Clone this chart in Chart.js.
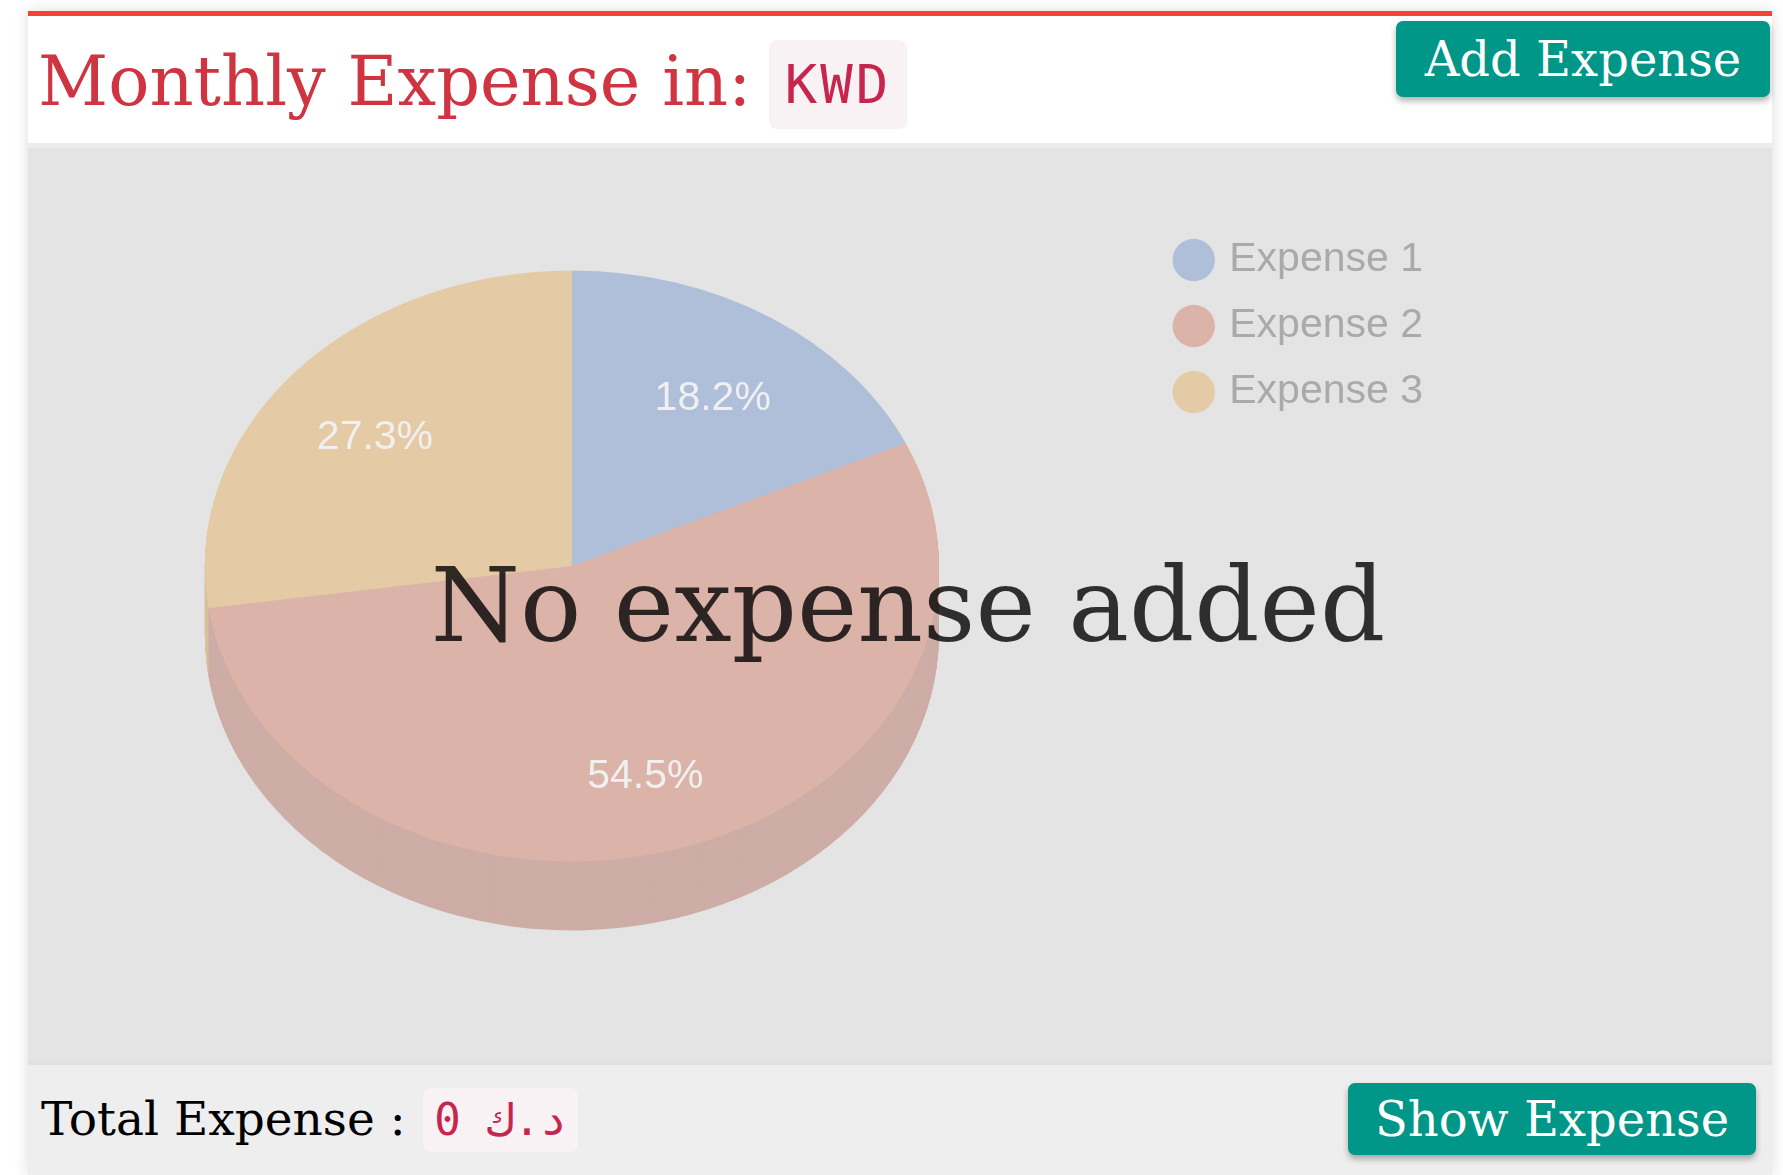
<!DOCTYPE html>
<html lang="en">

<head>
   <meta charset="UTF-8">
   <title>Monthly Expense</title>
   <script src="https://cdn.jsdelivr.net/npm/chart.js@4.4.1/dist/chart.umd.min.js"></script>
   <style>
      body {
         margin: 0;
         background: #fff;
         font-family: 'DejaVu Serif', serif;
      }

      .card {
         position: absolute;
         left: 28px;
         top: 11px;
         width: 1744px;
         background: #fff;
         border-top: 5px solid #f44336;
         box-shadow: 0 0 14px rgba(0, 0, 0, 0.14);
      }

      .card-header {
         position: relative;
         height: 127px;
         border-bottom: 5px solid #ececec;
      }

      .card-header h1 {
         position: absolute;
         left: 10px;
         top: 25px;
         margin: 0;
         font-size: 68.5px;
         font-weight: normal;
         color: #cf3440;
         white-space: nowrap;
      }

      code {
         position: absolute;
         background: #f9f2f4;
         color: #c7254e;
         border-radius: 8px;
         font-family: 'DejaVu Sans Mono', monospace;
         text-align: center;
         white-space: nowrap;
      }

      #currency {
         left: 741px;
         top: 24px;
         width: 138px;
         height: 89px;
         line-height: 89px;
         font-size: 54px;
         letter-spacing: 3px;
      }

      .btn {
         position: absolute;
         background: #009688;
         color: #fff;
         border-radius: 7px;
         box-shadow: 0 4px 6px rgba(0, 0, 0, 0.3);
         font-size: 48px;
         text-align: center;
         white-space: nowrap;
      }

      #addExpense {
         right: 2px;
         top: 5px;
         width: 374px;
         height: 76px;
         line-height: 76px;
      }

      .card-body {
         position: relative;
         height: 912px;
         background: #e4e4e4;
         overflow: hidden;
      }

      .chart-wrap {
         position: absolute;
         left: -38px;
         top: 0;
         width: 1782px;
         height: 912px;
      }

      .empty-msg {
         position: absolute;
         left: 16px;
         right: 0;
         top: 398px;
         text-align: center;
         font-size: 102px;
         color: rgba(0, 0, 0, 0.8);
         white-space: nowrap;
      }

      .card-footer {
         position: relative;
         height: 110px;
         border-top: 5px solid #e1e1e1;
         background: #eee;
      }

      .total {
         position: absolute;
         left: 13px;
         top: 26px;
         font-size: 47px;
         color: #000;
         white-space: nowrap;
      }

      #totalValue {
         left: 395px;
         top: 23px;
         width: 155px;
         height: 64px;
         line-height: 64px;
         font-size: 44px;
      }

      #showExpense {
         right: 16px;
         top: 18px;
         width: 408px;
         height: 72px;
         line-height: 72px;
      }
   </style>
</head>

<body>
   <div class="card">
      <div class="card-header">
         <h1>Monthly Expense in:</h1>
         <code id="currency">KWD</code>
         <div class="btn" id="addExpense">Add Expense</div>
      </div>
      <div class="card-body">
         <div class="chart-wrap">
            <canvas id="expenseChart"></canvas>
         </div>
         <div class="empty-msg">No expense added</div>
      </div>
      <div class="card-footer">
         <div class="total">Total Expense :</div>
         <code id="totalValue">0 د.ك</code>
         <div class="btn" id="showExpense">Show Expense</div>
      </div>
   </div>

   <script>
      // placeholder data shown while no expense exists
      var categories = ['Expense 1', 'Expense 2', 'Expense 3'];
      var amounts = [2, 6, 3];

      var sliceColors = ['#b0bfd9', '#dcb3a9', '#e4cba6'];
      var sideColors = ['#a5b2ca', '#ceada6', '#d8c09e'];

      // fake 3d: squash the pie into an ellipse and stack a darker copy under it
      var pie3d = {
         id: 'pie3d',
         beforeDatasetsDraw: function (chart, args, opts) {
            var ctx = chart.ctx;
            var arcs = chart.getDatasetMeta(0).data;
            if (!arcs.length) return;
            var cx = arcs[0].x, cy = arcs[0].y;
            ctx.save();
            ctx.translate(cx, cy);
            ctx.scale(1, opts.tilt);
            ctx.translate(-cx, -cy);
            var depth = opts.depth / opts.tilt;
            for (var d = depth; d > 0; d--) {
               arcs.forEach(function (arc, i) {
                  ctx.beginPath();
                  ctx.moveTo(arc.x, arc.y + d);
                  ctx.arc(arc.x, arc.y + d, arc.outerRadius, arc.startAngle, arc.endAngle);
                  ctx.closePath();
                  ctx.fillStyle = opts.sideColors[i];
                  ctx.fill();
               });
            }
         },
         afterDatasetsDraw: function (chart, args, opts) {
            var ctx = chart.ctx;
            var arcs = chart.getDatasetMeta(0).data;
            if (!arcs.length) return;
            ctx.restore();

            var total = amounts.reduce(function (a, b) { return a + b; }, 0);
            ctx.save();
            ctx.font = opts.labelFont;
            ctx.fillStyle = opts.labelColor;
            ctx.textAlign = 'center';
            ctx.textBaseline = 'middle';
            arcs.forEach(function (arc, i) {
               var mid = (arc.startAngle + arc.endAngle) / 2;
               var r = arc.outerRadius * opts.labelRadius;
               var x = arc.x + Math.cos(mid) * r;
               var y = arc.y + Math.sin(mid) * r * opts.tilt + opts.labelShift;
               ctx.fillText((amounts[i] / total * 100).toFixed(1) + '%', x, y);
            });
            ctx.restore();
         }
      };

      var ctxPie = document.getElementById('expenseChart');
      var expenseChart = new Chart(ctxPie, {
         type: 'pie',
         data: {
            labels: categories,
            datasets: [{
               data: amounts,
               backgroundColor: sliceColors,
               borderWidth: 0,
               radius: 367,
               clip: false
            }]
         },
         options: {
            responsive: true,
            maintainAspectRatio: false,
            animation: false,
            events: [],
            layout: {
               padding: { top: 66.5, bottom: 142.5, left: 0, right: 339 }
            },
            plugins: {
               legend: {
                  position: 'right',
                  align: 'start',
                  labels: {
                     usePointStyle: true,
                     pointStyle: 'circle',
                     boxWidth: 30,
                     boxHeight: 30,
                     padding: 25,
                     textAlign: 'left',
                     color: '#aaaaaa',
                     font: { family: "'Liberation Sans', Arial, sans-serif", size: 41 }
                  }
               },
               tooltip: { enabled: false },
               pie3d: {
                  tilt: 0.805,
                  depth: 69,
                  sideColors: sideColors,
                  labelRadius: 0.71,
                  labelShift: 9,
                  labelColor: '#f0f0f0',
                  labelFont: "41px 'Liberation Sans', Arial, sans-serif"
               }
            }
         },
         plugins: [pie3d]
      });
   </script>
</body>

</html>
